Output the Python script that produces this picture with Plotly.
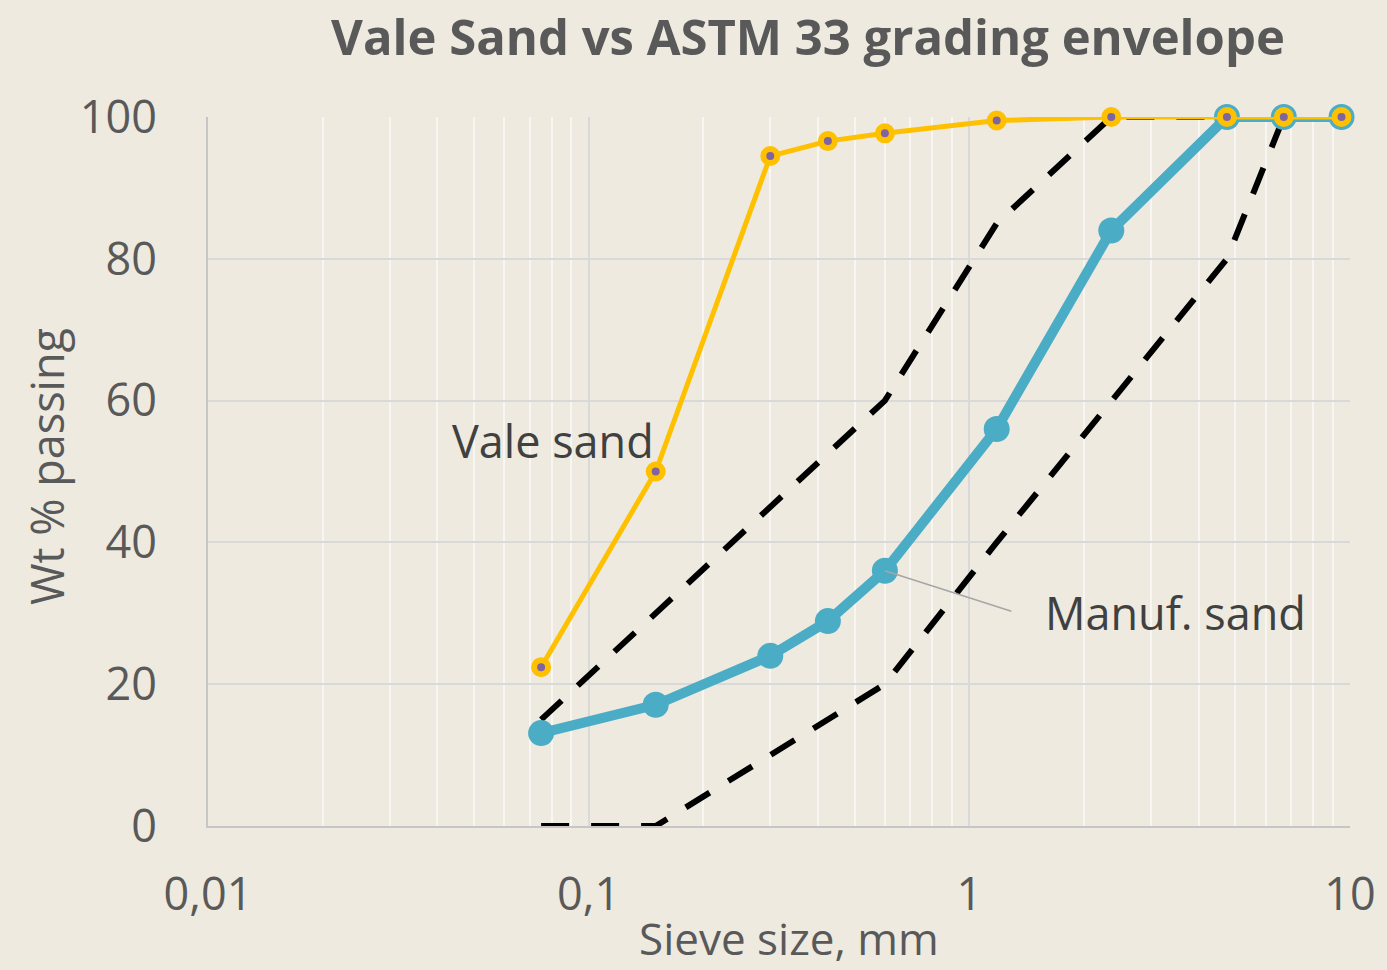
import math
import plotly.graph_objects as go

# Sieve sizes (mm)
sieve_vale = [0.075, 0.15, 0.3, 0.425, 0.6, 1.18, 2.36, 4.75, 6.7, 9.5]
vale_sand = [22.4, 50.0, 94.5, 96.6, 97.7, 99.5, 100, 100, 100, 100]

sieve_manuf = [0.075, 0.15, 0.3, 0.425, 0.6, 1.18, 2.36, 4.75, 6.7, 9.5]
manuf_sand = [13.1, 17.1, 24.0, 28.9, 36.0, 56.0, 84.0, 100, 100, 100]

sieve_env = [0.075, 0.15, 0.3, 0.6, 1.18, 2.36, 4.75, 6.7, 9.5]
upper_env = [15, 30, 45, 60, 85, 100, 100, 100, 100]
lower_env = [0, 0, 10, 20, 40, 60, 80, 100, 100]

x_tickvals = [0.01, 0.1, 1, 10]
x_ticktext = ["0,01", "0,1", "1", "10"]
y_tickvals = [0, 20, 40, 60, 80, 100]

BG = "#EEEAE0"
TXT = "#595959"
FONT = "Open Sans"

fig = go.Figure()

dash_style = dict(color="black", width=6, dash="28px,22px")
fig.add_trace(go.Scatter(x=sieve_env, y=upper_env, mode="lines", line=dash_style,
                         showlegend=False, cliponaxis=False, hoverinfo="skip"))
fig.add_trace(go.Scatter(x=sieve_env, y=lower_env, mode="lines", line=dash_style,
                         showlegend=False, cliponaxis=False, hoverinfo="skip"))
fig.add_trace(go.Scatter(x=sieve_manuf, y=manuf_sand, mode="lines+markers",
                         line=dict(color="#4BACC6", width=10),
                         marker=dict(color="#4BACC6", size=26),
                         showlegend=False, cliponaxis=False))
fig.add_trace(go.Scatter(x=sieve_vale, y=vale_sand, mode="lines+markers",
                         line=dict(color="#FFC000", width=5),
                         marker=dict(color="#8064A2", size=14, line=dict(color="#FFC000", width=6)),
                         showlegend=False, cliponaxis=False))

# leader line for Manuf. sand label
fig.add_annotation(x=math.log10(sieve_manuf[4]), y=manuf_sand[4], xref="x", yref="y",
                   text="", showarrow=True, arrowhead=0, arrowwidth=1.5,
                   arrowcolor="#A6A6A6", ax=128, ay=41, axref="pixel", ayref="pixel")
fig.add_annotation(x=(1043 - 208) / 1142, y=(826 - 612) / 709, xref="paper", yref="paper",
                   text="Manuf. sand", showarrow=False, xanchor="left", yanchor="middle",
                   font=dict(family=FONT, size=45, color="#404040"))
fig.add_annotation(x=(450 - 208) / 1142, y=(826 - 441) / 709, xref="paper", yref="paper",
                   text="Vale sand", showarrow=False, xanchor="left", yanchor="middle",
                   font=dict(family=FONT, size=45, color="#404040"))

# axis titles
fig.add_annotation(x=(789 - 208) / 1142, y=(826 - 938) / 709, xref="paper", yref="paper",
                   text="Sieve size, mm", showarrow=False, xanchor="center", yanchor="middle",
                   font=dict(family=FONT, size=44, color=TXT))
fig.add_annotation(x=(46 - 208) / 1142, y=(826 - 467) / 709, xref="paper", yref="paper",
                   text="Wt % passing", showarrow=False, xanchor="center", yanchor="middle",
                   textangle=-90, font=dict(family=FONT, size=45, color=TXT))

fig.update_layout(
    width=1387, height=970,
    paper_bgcolor=BG, plot_bgcolor=BG,
    margin=dict(l=208, r=37, t=117, b=144),
    title=dict(text="<b>Vale Sand vs ASTM 33 grading envelope</b>",
               x=(808 - 208) / 1142, xref="paper", xanchor="center",
               y=1 - 38 / 970, yref="container", yanchor="middle",
               font=dict(family=FONT, size=49, color=TXT)),
    font=dict(family=FONT, color=TXT),
)

fig.update_xaxes(type="log", range=[-2, 1],
                 tickvals=x_tickvals, ticktext=x_ticktext,
                 tickfont=dict(family=FONT, size=45, color=TXT),
                 showgrid=True, gridcolor="#D9D9D9", gridwidth=1.5,
                 minor=dict(dtick="D1", showgrid=True, gridcolor="#F8F6F2", gridwidth=1.5),
                 showline=True, linecolor="#C6C6C6", linewidth=2,
                 ticks="", ticklabelstandoff=28, zeroline=False)
fig.update_yaxes(range=[0, 100], tickvals=y_tickvals,
                 tickfont=dict(family=FONT, size=45, color=TXT),
                 showgrid=True, gridcolor="#D9D9D9", gridwidth=1.5,
                 showline=True, linecolor="#C6C6C6", linewidth=2,
                 ticks="", ticklabelstandoff=40, zeroline=False)

fig.write_html("out.html", config={"displayModeBar": False},
               post_script="document.body.style.margin='0';document.body.style.overflow='hidden';")
